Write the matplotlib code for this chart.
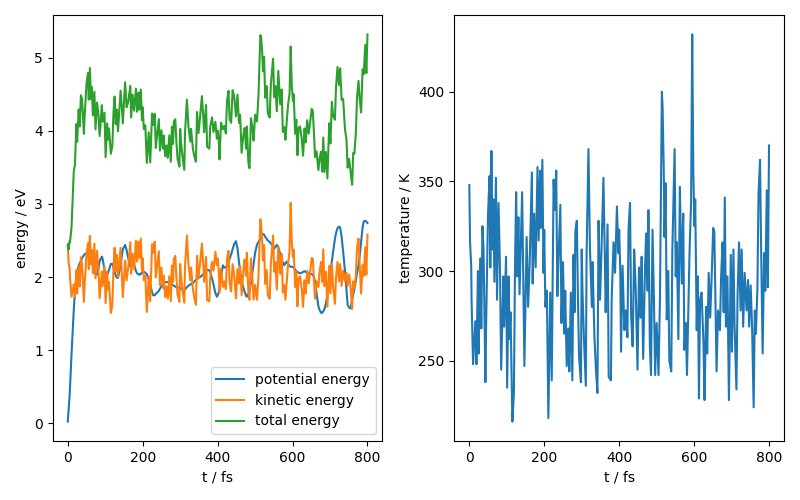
import numpy as np
import matplotlib
matplotlib.use("Agg")
import matplotlib.pyplot as plt

# time steps (fs)
time_fs = [
    0, 2, 5, 6, 10, 16, 19, 23, 25, 29, 32, 35, 38, 43, 45, 50, 54, 56, 59, 62,
    64, 67, 71, 74, 78, 82, 85, 91, 93, 98, 101, 105, 107, 110, 115, 119, 122, 125, 128, 131,
    134, 141, 144, 147, 153, 157, 161, 167, 169, 173, 177, 182, 185, 189, 191, 195, 196, 198, 200, 203,
    207, 211, 216, 220, 225, 228, 232, 235, 237, 243, 246, 250, 254, 256, 260, 264, 267, 271, 275, 278,
    281, 283, 287, 290, 293, 298, 300, 302, 306, 311, 313, 318, 322, 327, 329, 334, 338, 342, 345, 349,
    353, 358, 362, 364, 369, 372, 378, 380, 385, 389, 394, 398, 400, 403, 405, 409, 414, 418, 422, 425,
    429, 432, 436, 440, 444, 449, 453, 457, 460, 464, 469, 472, 476, 478, 482, 485, 489, 493, 496, 500,
    505, 509, 514, 516, 519, 521, 524, 527, 531, 534, 539, 542, 548, 551, 554, 558, 562, 567, 571, 574,
    578, 581, 584, 588, 592, 595, 598, 601, 603, 607, 610, 613, 616, 620, 625, 628, 632, 635, 639, 643,
    647, 651, 654, 657, 660, 664, 669, 672, 676, 679, 682, 685, 689, 693, 698, 701, 705, 708, 713, 716,
    720, 724, 727, 731, 735, 740, 744, 747, 751, 755, 759, 762, 765, 769, 772, 776, 779, 783, 787, 790,
    794, 797, 800,
]

# temperature (K)
temperature = [
    348, 316, 303, 284, 248, 272, 248, 300, 254, 307, 268, 325, 312, 238, 272, 332, 353, 302, 367, 312,
    340, 294, 352, 284, 338, 300, 245, 297, 269, 308, 235, 297, 262, 277, 216, 232, 304, 344, 297, 330,
    287, 344, 296, 247, 319, 280, 304, 355, 293, 332, 302, 358, 317, 356, 324, 362, 340, 299, 323, 280,
    289, 218, 288, 239, 351, 334, 356, 286, 300, 337, 271, 305, 265, 289, 247, 268, 244, 288, 239, 309,
    277, 322, 328, 284, 252, 238, 312, 289, 262, 236, 308, 368, 313, 280, 305, 263, 245, 232, 328, 284,
    313, 352, 305, 277, 326, 241, 239, 284, 316, 299, 336, 310, 323, 299, 255, 303, 267, 278, 263, 323,
    338, 274, 258, 312, 291, 245, 302, 274, 308, 251, 302, 321, 289, 334, 258, 242, 323, 282, 242, 271,
    242, 286, 400, 391, 356, 319, 349, 273, 300, 250, 244, 312, 368, 297, 316, 262, 347, 293, 332, 256,
    271, 242, 271, 312, 338, 432, 355, 325, 340, 267, 297, 229, 284, 288, 260, 228, 280, 254, 299, 274,
    297, 324, 322, 284, 244, 278, 267, 296, 316, 277, 341, 269, 297, 228, 309, 255, 312, 270, 234, 286,
    316, 278, 312, 269, 299, 278, 295, 269, 292, 267, 224, 278, 265, 290, 343, 362, 312, 254, 310, 289,
    345, 291, 370,
]

# potential energy (eV)
potential = [
    0.02, 0.17, 0.38, 0.50, 0.95, 1.55, 1.80, 2.00, 2.08, 2.15, 2.19, 2.22, 2.26, 2.30, 2.31, 2.33, 2.33, 2.32, 2.30, 2.26,
    2.23, 2.16, 2.08, 2.04, 2.03, 2.12, 2.22, 2.28, 2.25, 2.10, 2.00, 2.03, 2.05, 2.10, 2.18, 2.18, 2.13, 2.07, 2.02, 1.99,
    1.99, 2.15, 2.28, 2.38, 2.44, 2.37, 2.27, 2.14, 2.14, 2.18, 2.17, 2.08, 2.05, 2.04, 2.03, 2.04, 2.05, 2.06, 2.07, 2.07,
    2.06, 2.04, 1.97, 1.90, 1.79, 1.75, 1.75, 1.77, 1.78, 1.81, 1.84, 1.88, 1.91, 1.92, 1.93, 1.93, 1.93, 1.93, 1.91, 1.90,
    1.89, 1.88, 1.87, 1.86, 1.86, 1.85, 1.85, 1.84, 1.83, 1.82, 1.83, 1.86, 1.88, 1.90, 1.90, 1.92, 1.94, 1.96, 1.97, 1.99,
    2.00, 2.02, 2.04, 2.05, 2.08, 2.10, 2.09, 2.07, 1.98, 1.90, 1.78, 1.73, 1.75, 1.79, 1.83, 2.00, 2.16, 2.13, 2.13, 2.15,
    2.19, 2.25, 2.31, 2.38, 2.45, 2.49, 2.39, 2.20, 2.07, 1.95, 1.85, 1.80, 1.74, 1.73, 1.77, 1.80, 1.92, 2.07, 2.18, 2.33,
    2.44, 2.48, 2.52, 2.56, 2.59, 2.59, 2.58, 2.55, 2.52, 2.50, 2.48, 2.46, 2.42, 2.39, 2.41, 2.44, 2.40, 2.32, 2.25, 2.20,
    2.16, 2.19, 2.21, 2.18, 2.15, 2.14, 2.14, 2.14, 2.13, 2.10, 2.08, 2.07, 2.06, 2.05, 2.06, 2.07, 2.08, 2.07, 2.06, 2.05,
    2.05, 2.04, 2.03, 2.00, 1.94, 1.78, 1.60, 1.55, 1.51, 1.51, 1.53, 1.56, 1.64, 1.76, 1.95, 2.05, 2.22, 2.33, 2.52, 2.60,
    2.67, 2.69, 2.68, 2.55, 2.35, 2.08, 1.82, 1.62, 1.58, 1.57, 1.70, 1.76, 1.84, 1.95, 2.05, 2.16, 2.28, 2.48, 2.68, 2.76,
    2.77, 2.76, 2.74,
]

N_ATOMS = 54
KB = 8.617e-5  # eV/K


def plot_md(t, temp, epot):
    t = np.array(t)
    temp = np.array(temp, dtype=float)
    epot = np.array(epot)
    ekin = 1.5 * N_ATOMS * KB * temp
    etot = epot + ekin

    fig, (ax1, ax2) = plt.subplots(1, 2, figsize=(8, 5), dpi=100)
    fig.subplots_adjust(left=0.066, right=0.98, top=0.97, bottom=0.118, wspace=0.218)

    ax1.plot(t, epot, label="potential energy")
    ax1.plot(t, ekin, label="kinetic energy")
    ax1.plot(t, etot, label="total energy")
    ax1.set_xlabel("t / fs")
    ax1.set_ylabel("energy / eV")
    ax1.legend(loc="lower right")

    ax2.plot(t, temp)
    ax2.set_xlabel("t / fs")
    ax2.set_ylabel("temperature / K")

    fig.savefig("out.png")


if __name__ == "__main__":
    plot_md(time_fs, temperature, potential)
